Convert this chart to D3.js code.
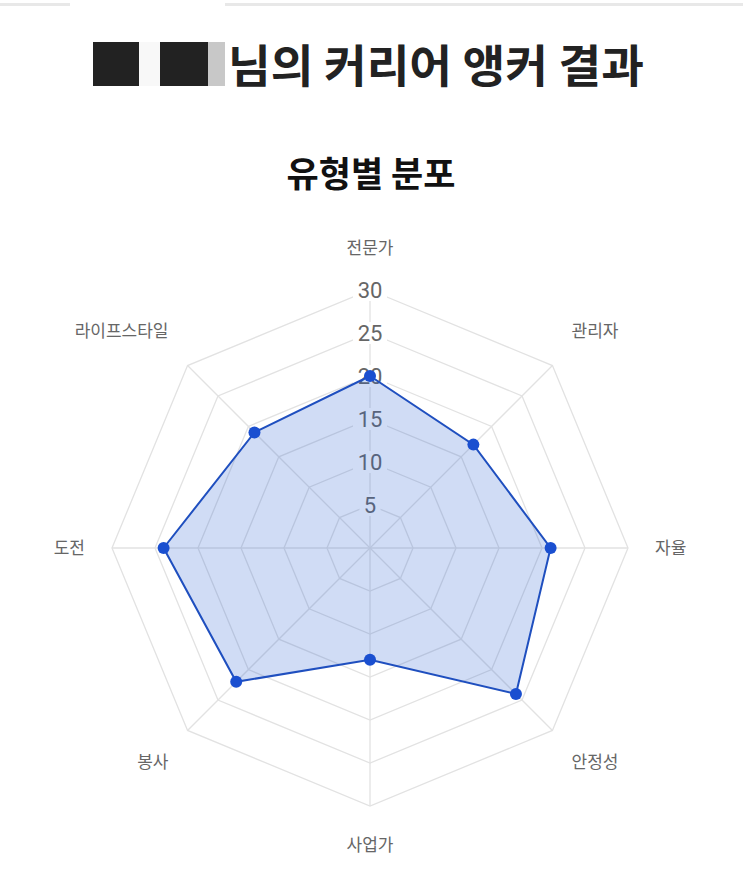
<!DOCTYPE html>
<html>
<head>
<meta charset="utf-8">
<script src="https://cdn.jsdelivr.net/npm/d3@7"></script>
<style>
  body { margin: 0; background: #fff; }
  svg { display: block; font-family: "Noto Sans CJK KR", "Noto Sans", sans-serif; }
</style>
</head>
<body>
<div class="radar-chart"></div>
<script>
// 유형 / 점수
const categories = ["전문가", "관리자", "자율", "안정성", "사업가", "봉사", "도전", "라이프스타일"]
const scores = [20, 17, 21, 24, 13, 22, 24, 19]
const ticks = [5, 10, 15, 20, 25, 30]
const titleText = "님의 커리어 앵커 결과"
const subTitle = "유형별 분포"

let width = 743
let height = 895
let cx = 370, cy = 548
let radius = 258 // 30점 반지름
let labelDist = 285 // 축 라벨 거리
let svg = d3.select(".radar-chart")
    .append("svg")
    .attr("width", width)
    .attr("height", height)

// 상단 회색 줄
svg.append("rect").attr("x", 0).attr("y", 3).attr("width", 70).attr("height", 3).attr("fill", "#e8e8e8")
svg.append("rect").attr("x", 225).attr("y", 3).attr("width", 518).attr("height", 3).attr("fill", "#e8e8e8")

// 이름 가림 블록
svg.append("rect").attr("x", 93).attr("y", 42).attr("width", 46).attr("height", 44).attr("fill", "#222")
svg.append("rect").attr("x", 139).attr("y", 42).attr("width", 21).attr("height", 44).attr("fill", "#f8f8f8")
svg.append("rect").attr("x", 160).attr("y", 42).attr("width", 48).attr("height", 44).attr("fill", "#222")
svg.append("rect").attr("x", 208).attr("y", 42).attr("width", 17).attr("height", 44).attr("fill", "#c8c8c8")

svg.append("text")
    .attr("x", 228)
    .attr("y", 83)
    .attr("font-size", 45)
    .attr("font-weight", 700)
    .attr("fill", "#222")
    .attr("textLength", 416)
    .attr("lengthAdjust", "spacingAndGlyphs")
    .text(titleText)

svg.append("text")
    .attr("x", 371)
    .attr("y", 187)
    .attr("text-anchor", "middle")
    .attr("font-size", 35)
    .attr("font-weight", 700)
    .attr("fill", "#111")
    .text(subTitle)

let r = d3.scaleLinear().domain([0, 30]).range([0, radius])
let angle = d3.scalePoint().domain(categories).range([0, Math.PI * 2 * (categories.length - 1) / categories.length])
let px = (c, v) => cx + r(v) * Math.sin(angle(c))
let py = (c, v) => cy - r(v) * Math.cos(angle(c))

// 그리드 (팔각형)
let grid = svg.append("g")
grid.selectAll("polygon")
    .data(ticks)
    .enter()
    .append("polygon")
    .attr("fill", "none")
    .attr("stroke", "#e2e2e2")
    .attr("stroke-width", 1.3)
    .attr("points", (t) => categories.map((c) => `${px(c, t)},${py(c, t)}`).join(" "))
grid.selectAll("line")
    .data(categories)
    .enter()
    .append("line")
    .attr("stroke", "#e2e2e2")
    .attr("stroke-width", 1.3)
    .attr("x1", cx).attr("y1", cy)
    .attr("x2", (c) => px(c, 30))
    .attr("y2", (c) => py(c, 30))

// 눈금 라벨 (흰 배경 위, 데이터보다 아래)
let tickG = svg.append("g")
tickG.selectAll("rect")
    .data(ticks)
    .enter()
    .append("rect")
    .attr("x", (t) => cx - (String(t).length * 6.5 + 4))
    .attr("y", (t) => cy - r(t) - 11)
    .attr("width", (t) => (String(t).length * 6.5 + 4) * 2)
    .attr("height", 22)
    .attr("fill", "#fff")
tickG.selectAll("text")
    .data(ticks)
    .enter()
    .append("text")
    .attr("x", cx)
    .attr("y", (t) => cy - r(t) + 8)
    .attr("text-anchor", "middle")
    .attr("font-family", "Roboto, 'Noto Sans', sans-serif")
    .attr("font-size", 22)
    .attr("fill", "#666")
    .text((t) => t)

// 데이터 영역
let line = d3.lineRadial()
    .angle((d, i) => angle(categories[i]))
    .radius((d) => r(d))
    .curve(d3.curveLinearClosed)
svg.append("path")
    .datum(scores)
    .attr("transform", `translate(${cx},${cy})`)
    .attr("d", line)
    .attr("fill", "rgba(40,95,210,0.22)")
    .attr("stroke", "#1f4fbf")
    .attr("stroke-width", 2)

// 점
svg.append("g")
    .selectAll("circle")
    .data(scores)
    .enter()
    .append("circle")
    .attr("cx", (d, i) => px(categories[i], d))
    .attr("cy", (d, i) => py(categories[i], d))
    .attr("r", 6)
    .attr("fill", "#1a4fd0")

// 축 라벨
svg.append("g")
    .selectAll("text")
    .data(categories)
    .enter()
    .append("text")
    .attr("x", (c) => cx + labelDist * Math.sin(angle(c)))
    .attr("y", (c) => {
        let cos = Math.cos(angle(c))
        let y = cy - labelDist * cos
        if (cos > 0.1) return y - 9
        if (cos < -0.1) return y + 18
        return y + 6
    })
    .attr("text-anchor", (c) => {
        let sin = Math.sin(angle(c))
        return sin > 0.1 ? "start" : sin < -0.1 ? "end" : "middle"
    })
    .attr("font-size", 17)
    .attr("fill", "#666")
    .text((c) => c)
</script>
</body>
</html>
